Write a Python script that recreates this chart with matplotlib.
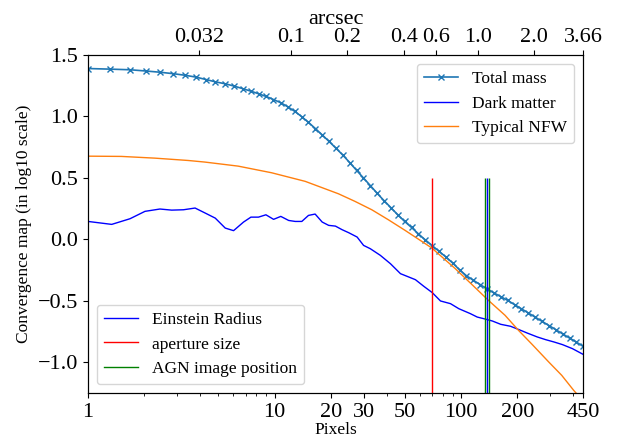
import matplotlib
matplotlib.use("Agg")
import matplotlib.pyplot as plt
from matplotlib.ticker import NullLocator, FixedLocator, FixedFormatter
from matplotlib.lines import Line2D

plt.rcParams['font.family'] = ['Liberation Serif', 'DejaVu Serif']
plt.rcParams['mathtext.fontset'] = 'stix'

# ---------------- data ----------------
total_r = [1.0, 1.32, 1.68, 2.04, 2.43, 2.87, 3.32, 3.80, 4.30, 4.81, 5.43, 6.08,
           6.76, 7.46, 8.24, 9.0, 9.86,
           10.82, 11.78, 12.82, 13.96, 15.19, 16.54, 18.00, 19.59, 21.33, 23.21,
           25.27, 27.51, 29.94, 32.59, 35.47, 38.61, 42.03, 45.75, 49.80, 54.21,
           59.0, 64.2, 69.9, 76.1, 82.8, 90.2, 98.1, 106.8, 116.3, 126.6, 137.8,
           150.0, 163.2, 177.7, 193.4, 210.5, 229.2, 249.5, 271.5, 295.6, 321.7,
           350.2, 381.2, 414.9, 450.0]
total_y = [1.39, 1.385, 1.38, 1.37, 1.36, 1.348, 1.335, 1.32, 1.30, 1.282, 1.266,
           1.247, 1.226, 1.206, 1.184, 1.163, 1.138,
           1.111, 1.078, 1.042, 0.999, 0.952, 0.902, 0.850, 0.797, 0.742, 0.686,
           0.625, 0.562, 0.500, 0.438, 0.375, 0.315, 0.258, 0.200, 0.146, 0.097,
           0.045, -0.004, -0.050, -0.097, -0.143, -0.193, -0.248, -0.296, -0.333,
           -0.368, -0.404, -0.436, -0.466, -0.497, -0.531, -0.565, -0.599, -0.633,
           -0.667, -0.701, -0.735, -0.769, -0.803, -0.836, -0.870]

dm_r = [1.0, 1.34, 1.68, 2.02, 2.43, 2.81, 3.25, 3.75, 4.25, 4.81, 5.44, 6.03,
        6.82, 7.47, 8.20, 8.99, 9.88, 10.8, 11.9, 12.9, 14.0, 15.2, 16.5, 18.0,
        19.5, 21.2, 23.0, 25.0, 27.7, 30.0, 32.6, 36.9, 41.8, 47.3, 51.4, 56.9,
        63.1, 70.0, 77.5, 87.7, 97.2, 112, 122, 132, 147, 163, 184, 204, 226,
        256, 284, 315, 349, 395, 450]
dm_y = [0.146, 0.122, 0.168, 0.228, 0.247, 0.238, 0.241, 0.255, 0.214, 0.173,
        0.092, 0.071, 0.141, 0.181, 0.181, 0.200, 0.163, 0.187, 0.154, 0.146,
        0.146, 0.195, 0.206, 0.141, 0.114, 0.108, 0.079, 0.054, 0.019, -0.049,
        -0.076, -0.13, -0.198, -0.279, -0.301, -0.328, -0.382, -0.433, -0.501,
        -0.523, -0.564, -0.604, -0.632, -0.645, -0.664, -0.691, -0.707, -0.734,
        -0.762, -0.794, -0.816, -0.835, -0.856, -0.889, -0.935]

nfw_r = [1.0, 1.51, 2.28, 3.44, 4.23, 6.38, 9.64, 14.6, 22.0, 27.0, 33.2, 40.7,
         50.1, 61.5, 69.6, 93.0, 114, 140, 172, 203, 240, 295, 346, 401, 450]
nfw_y = [0.677, 0.675, 0.661, 0.642, 0.629, 0.596, 0.542, 0.472, 0.371, 0.309,
         0.241, 0.160, 0.073, -0.016, -0.070, -0.238, -0.366, -0.496, -0.618,
         -0.740, -0.854, -0.998, -1.106, -1.228, -1.314]

einstein_r = [137.0]
aperture_r = [70.0]
agn_r = [133.5, 140.5]
vline_top = 0.5

x_ticks = [1, 10, 20, 30, 50, 100, 200, 450]
arcsec_ticks = [0.032, 0.1, 0.2, 0.4, 0.6, 1.0, 2.0, 3.66]
arcsec_labels = ['0.032', '0.1', '0.2', '0.4', '0.6', '1.0', '2.0', '3.66']
arcsec_per_pixel = 3.66 / 450.0

xlim = (1, 450)
ylim = (-1.25, 1.5)

# ---------------- plot ----------------
fig = plt.figure(figsize=(6.17, 4.38), dpi=100)
ax = fig.add_axes([0.1426, 0.1027, 0.8023, 0.7717])

l1, = ax.plot(total_r, total_y, color='#1f77b4', marker='x', markersize=5,
              lw=1.2, label='Total mass')
l2, = ax.plot(dm_r, dm_y, color='blue', lw=1.0, label='Dark matter')
l3, = ax.plot(nfw_r, nfw_y, color='#ff7f0e', lw=1.0, label='Typical NFW')

ax.vlines(aperture_r, ylim[0], vline_top, color='red', lw=1.0)
ax.vlines(agn_r, ylim[0], vline_top, color='green', lw=1.0)
ax.vlines(einstein_r, ylim[0], vline_top, color='blue', lw=1.0)

ax.set_xscale('log')
ax.set_xlim(*xlim)
ax.set_ylim(*ylim)
ax.set_xticks(x_ticks)
ax.set_xticklabels([str(t) for t in x_ticks])
ax.set_yticks([-1.0, -0.5, 0.0, 0.5, 1.0, 1.5])
ax.tick_params(axis='both', which='major', labelsize=16)
ax.set_xlabel('Pixels', fontsize=12.5, labelpad=0)
ax.set_ylabel('Convergence map (in log10 scale)', fontsize=12.5)

leg1 = ax.legend(handles=[l1, l2, l3], loc='upper right', fontsize=12.5)
ax.add_artist(leg1)
h_e = Line2D([], [], color='blue', lw=1.0)
h_a = Line2D([], [], color='red', lw=1.0)
h_g = Line2D([], [], color='green', lw=1.0)
ax.legend([h_e, h_a, h_g], ['Einstein Radius', 'aperture size', 'AGN image position'],
          loc='lower left', fontsize=12.5)

ax2 = ax.twiny()
ax2.set_xscale('log')
ax2.set_xlim(*xlim)
ax2.xaxis.set_major_locator(FixedLocator([a / arcsec_per_pixel for a in arcsec_ticks]))
ax2.xaxis.set_major_formatter(FixedFormatter(arcsec_labels))
ax2.xaxis.set_minor_locator(NullLocator())
ax2.tick_params(axis='x', labelsize=16, pad=2.5)
ax2.set_xlabel('arcsec', fontsize=16, labelpad=3)

fig.savefig('out.png', dpi=100)
